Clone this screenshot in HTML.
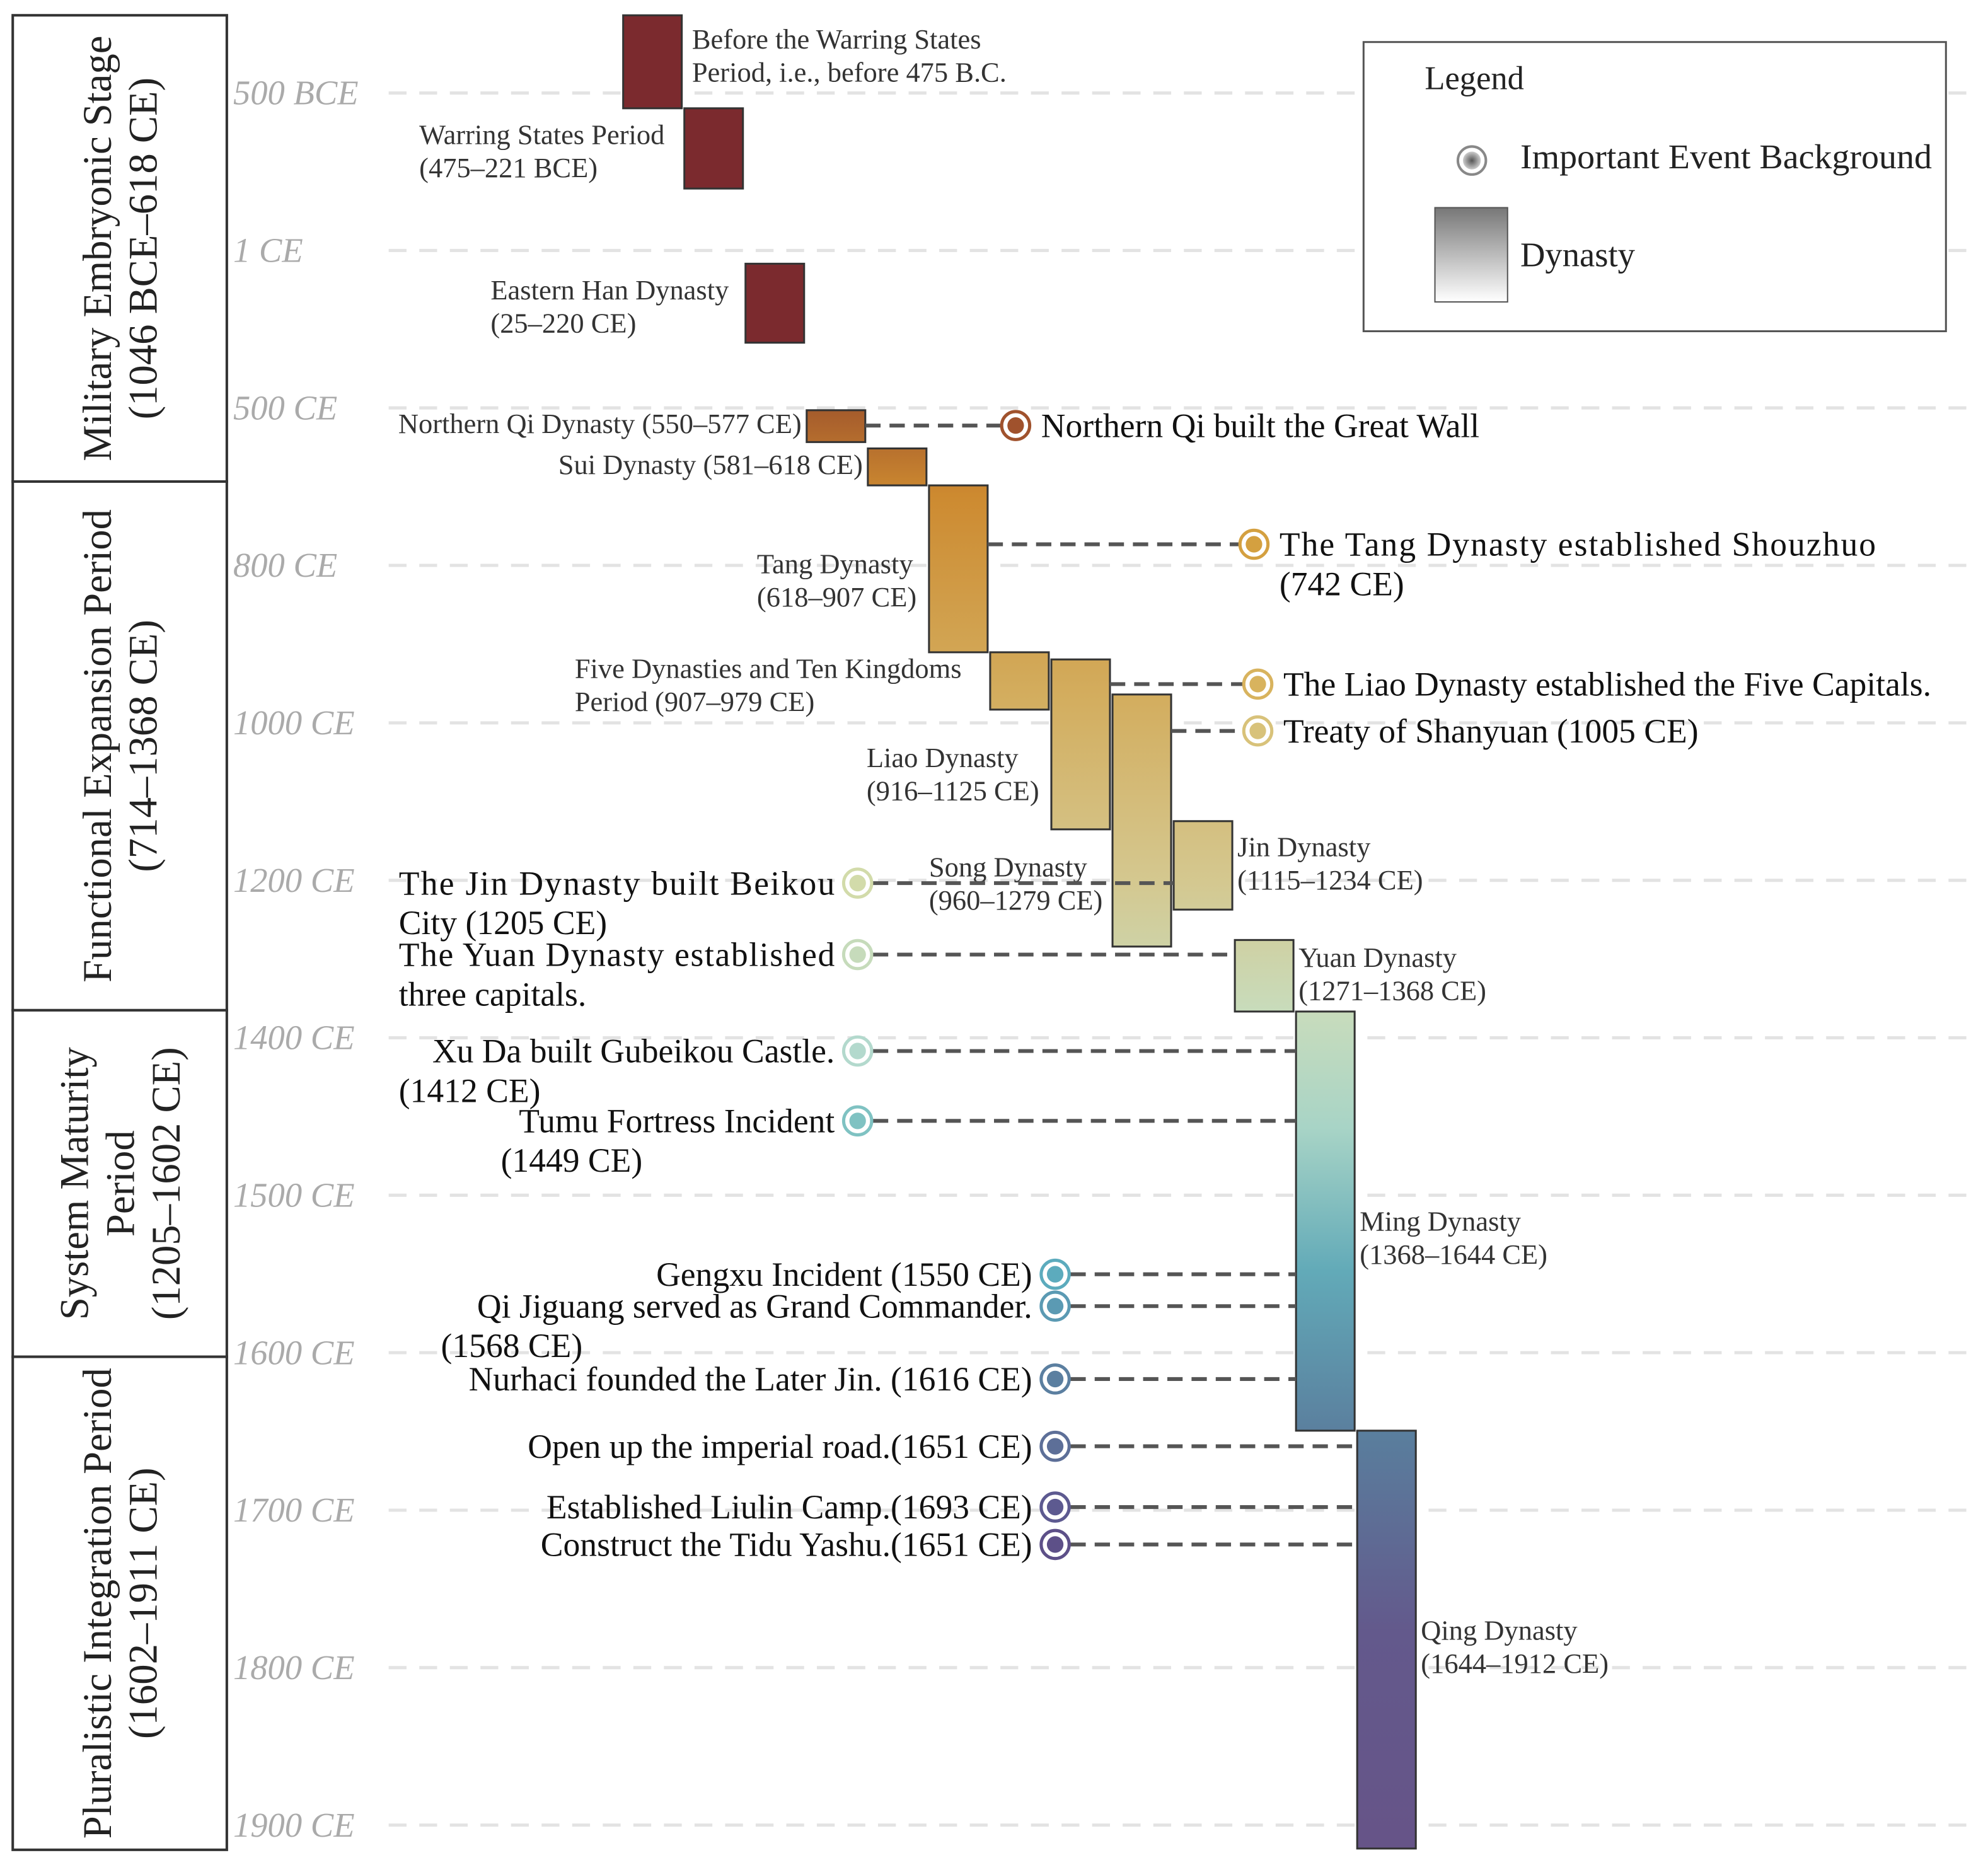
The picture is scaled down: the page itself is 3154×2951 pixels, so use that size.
<!DOCTYPE html>
<html><head><meta charset="utf-8">
<style>
html,body{margin:0;padding:0;background:#fff;}
svg{display:block;font-family:"Liberation Serif",serif;}
</style></head>
<body>
<svg id="chart" width="3154" height="2951" viewBox="0 0 1560 1460" preserveAspectRatio="none" xmlns="http://www.w3.org/2000/svg">
<defs>
<linearGradient id="dynGrad" gradientUnits="userSpaceOnUse" x1="0" y1="320" x2="0" y2="1450">
<stop offset="0" stop-color="#a45a2c"/>
<stop offset="0.06" stop-color="#cd8a30"/>
<stop offset="0.2" stop-color="#d3ad5e"/>
<stop offset="0.33" stop-color="#d4c890"/>
<stop offset="0.42" stop-color="#c8dcbc"/>
<stop offset="0.5" stop-color="#a8d4c6"/>
<stop offset="0.6" stop-color="#62aab8"/>
<stop offset="0.72" stop-color="#5a7c9c"/>
<stop offset="0.85" stop-color="#63598c"/>
<stop offset="1" stop-color="#665488"/>
</linearGradient>
<radialGradient id="legDot"><stop offset="0" stop-color="#555"/><stop offset="1" stop-color="#ccc"/></radialGradient>
<linearGradient id="legBar" x1="0" y1="0" x2="0" y2="1"><stop offset="0" stop-color="#777"/><stop offset="1" stop-color="#fff"/></linearGradient>
</defs>
<g id="grid"></g>
<g id="phases"></g>
<g id="bars"></g>
<g id="events"></g>
<g>
<rect x="1070" y="33" width="457" height="227" fill="#fff" stroke="#555" stroke-width="1.5"/>
<text x="1118" y="70" font-size="26" fill="#222">Legend</text>
<circle cx="1155" cy="126" r="11" fill="#fff" stroke="#888" stroke-width="2"/>
<circle cx="1155" cy="126" r="7" fill="url(#legDot)"/>
<text x="1193" y="132" font-size="27" fill="#222" textLength="323" lengthAdjust="spacingAndGlyphs">Important Event Background</text>
<rect x="1126" y="163" width="57" height="74" fill="url(#legBar)" stroke="#555"/>
<text x="1193" y="209" font-size="27" fill="#222">Dynasty</text>
</g>
</svg>
<script>
const tickLabels = ["500 BCE","1 CE","500 CE","800 CE","1000 CE","1200 CE","1400 CE","1500 CE","1600 CE","1700 CE","1800 CE","1900 CE"];
const knotYears = [-600,-475,-221,25,220,550,577,581,618,907,979,1125,1234,1279,1368,1644,1912];
const knotPos   = [12,85,148,207,269,322,347,352,381,512,557,651,714,743,794,1123,1451];
const dynNames = ["Before the Warring States","Warring States","Eastern Han","Northern Qi","Sui","Tang","Five Dynasties","Liao","Song","Jin","Yuan","Ming","Qing"];
const dynStart = [-600,-475,25,550,581,618,907,916,960,1115,1271,1368,1644];
const dynEnd   = [-475,-221,220,577,618,907,979,1125,1279,1234,1368,1644,1912];
const eventLabels = ["Northern Qi built the Great Wall","The Tang Dynasty established Shouzhuo|(742 CE)","The Liao Dynasty established the Five Capitals.","Treaty of Shanyuan (1005 CE)","The Jin Dynasty built Beikou|City (1205 CE)","The Yuan Dynasty established|three capitals.","Xu Da built Gubeikou Castle.|(1412 CE)","Tumu Fortress Incident|(1449 CE)","Gengxu Incident (1550 CE)","Qi Jiguang served as Grand Commander.|(1568 CE)","Nurhaci founded the Later Jin. (1616 CE)","Open up the imperial road.(1651 CE)","Established Liulin Camp.(1693 CE)","Construct the Tidu Yashu.(1651 CE)"];
const eventYears = [563,720,947,1005,1198,1290,1394,1440,1541,1562,1610,1654,1693,1717];
const eventDynasty = [3,5,7,8,9,10,11,11,11,11,11,12,12,12];

const NS="http://www.w3.org/2000/svg";
function mk(tag,attrs,parent){const e=document.createElementNS(NS,tag);for(const k in attrs)e.setAttribute(k,attrs[k]);parent.appendChild(e);return e;}
function yScale(yr){
  for(let i=0;i<knotYears.length-1;i++){
    if(yr<=knotYears[i+1]||i===knotYears.length-2){
      const t=(yr-knotYears[i])/(knotYears[i+1]-knotYears[i]);
      return knotPos[i]+t*(knotPos[i+1]-knotPos[i]);
    }
  }
}
function xCol(i){return 489+i*48;}
const BW=46;

const grid=document.getElementById('grid');
tickLabels.forEach((lab,i)=>{
  const y=73+i*123.6;
  const l=mk('line',{x1:305,x2:1545,y1:y,y2:y,stroke:'#e3e3e3','stroke-width':2.5,'stroke-dasharray':'14 10'},grid);
  
  
  const t=mk('text',{x:183,y:y+9,'font-size':27,'font-style':'italic',fill:'#aaa'},grid);
  t.textContent=lab;
  
  
});

const phases=[
 {y0:12,y1:378,l:["Military Embryonic Stage","(1046 BCE–618 CE)"]},
 {y0:378,y1:793,l:["Functional Expansion Period","(714–1368 CE)"]},
 {y0:793,y1:1065,l:["System Maturity","Period","(1205–1602 CE)"]},
 {y0:1065,y1:1452,l:["Pluralistic Integration Period","(1602–1911 CE)"]}];
const pg=document.getElementById('phases');
phases.forEach(p=>{
  const r=mk('rect',{x:10,y:p.y0,width:168,height:p.y1-p.y0,fill:'#fff',stroke:'#333','stroke-width':2},pg);
  
  
  const cy=(p.y0+p.y1)/2, n=p.l.length, lh=36;
  const t=mk('text',{transform:`translate(${94},${cy}) rotate(-90)`,'text-anchor':'middle','font-size':32,fill:'#222'},pg);
  
  
  p.l.forEach((s,j)=>{const ts=mk('tspan',{x:0,y:(j-(n-1)/2)*lh+11},t);ts.textContent=s;});
});

const barLabels=[
 {x:543,y:38,a:'start',l:["Before the Warring States","Period, i.e., before 475 B.C."]},
 {x:533,y:113,a:'end',l:["Warring States Period","(475–221 BCE)"],alignStart:329},
 {x:580,y:235,a:'end',l:["Eastern Han Dynasty","(25–220 CE)"],alignStart:385},
 {x:629,y:340,a:'end',l:["Northern Qi Dynasty (550–577 CE)"]},
 {x:677,y:372,a:'end',l:["Sui Dynasty (581–618 CE)"]},
 {x:723,y:450,a:'end',l:["Tang Dynasty","(618–907 CE)"],alignStart:594},
 {x:772,y:532,a:'end',l:["Five Dynasties and Ten Kingdoms","Period (907–979 CE)"],alignStart:451},
 {x:820,y:602,a:'end',l:["Liao Dynasty","(916–1125 CE)"],alignStart:680},
 {x:729,y:688,a:'start',l:["Song Dynasty","(960–1279 CE)"]},
 {x:971,y:672,a:'start',l:["Jin Dynasty","(1115–1234 CE)"]},
 {x:1019,y:759,a:'start',l:["Yuan Dynasty","(1271–1368 CE)"]},
 {x:1067,y:966,a:'start',l:["Ming Dynasty","(1368–1644 CE)"]},
 {x:1115,y:1287,a:'start',l:["Qing Dynasty","(1644–1912 CE)"]}];
const bg=document.getElementById('bars');
dynStart.forEach((s,i)=>{
  const y0=yScale(s), y1=yScale(dynEnd[i]);
  const fill=i<3?'#7b2a2e':'url(#dynGrad)';
  const r=mk('rect',{x:xCol(i),y:y0,width:BW,height:y1-y0,fill:fill,stroke:'#333','stroke-width':1.5},bg);
  
  
  const L=barLabels[i];
  const t=mk('text',{'font-size':22,fill:'#333'},bg);
  
  
  L.l.forEach((s2,j)=>{
    let x=L.x, a=L.a;
    if(L.alignStart){x=L.alignStart;a='start';}
    const ts=mk('tspan',{x:x,y:L.y+j*26,'text-anchor':a},t);ts.textContent=s2;
  });
});

const evColors=["#a0522d","#d4a040","#d8b35e","#d8c27a","#d2dbaa","#c6dbbb","#b3d9cd","#7fc2c2","#5cabbd","#5b9ab3","#5b7fa0","#5d6f98","#5d5a90","#5d5088"];
const evCX=[797,984,987,987,673,673,673,673,828,828,828,828,828,828];
const justify=[null,[1004,1472],null,null,[313,655],[313,655],null,null,null,null,null,null,null,null];
const eg=document.getElementById('events');
eventYears.forEach((yr,i)=>{
  const y=yScale(yr), cx=evCX[i], d=eventDynasty[i];
  const bx=xCol(d);
  const right=cx>bx;
  const x1=right?bx+BW:cx+12, x2=right?cx-12:bx;
  const ln=mk('line',{x1:x1,x2:x2,y1:y,y2:y,stroke:'#555','stroke-width':3,'stroke-dasharray':'12 7'},eg);
  
  
  const c1=mk('circle',{cx:cx,cy:y,r:11,fill:'#fff',stroke:evColors[i],'stroke-width':2.5},eg);
  
  
  const c2=mk('circle',{cx:cx,cy:y,r:6.5,fill:evColors[i]},eg);
  
  
  const lines=eventLabels[i].split('|');
  lines.forEach((s,j)=>{
    let x,a;
    if(right){x=cx+20;a='start';}
    else if(j===0){x=cx-18;a='end';}
    else {x=(i===7?393:(i===9?346:313));a='start';}
    const attrs={x:x,y:y+9+j*31,'text-anchor':a,'font-size':26.5,fill:'#111'};
    if(j===0&&justify[i]){attrs.x=justify[i][0];attrs['text-anchor']='start';attrs.textLength=justify[i][1]-justify[i][0];attrs.lengthAdjust='spacing';}
    const t=mk('text',attrs,eg);
    
    
    t.textContent=s;
  });
});
</script>
</body></html>
